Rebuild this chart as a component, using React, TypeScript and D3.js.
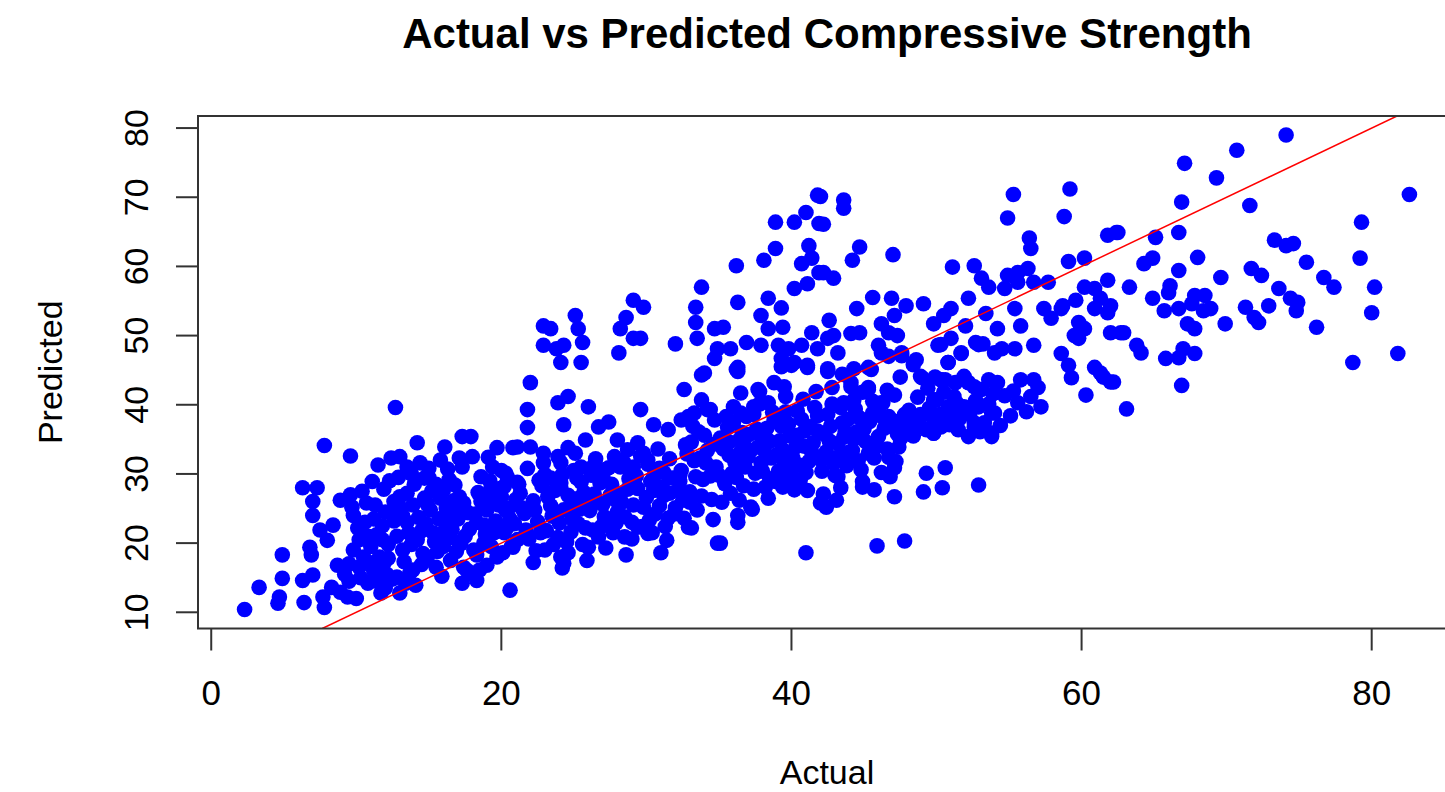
import React from 'react';
import * as d3 from 'd3';

const chartTitle = 'Actual vs Predicted Compressive Strength';
const xLabel = 'Actual';
const yLabel = 'Predicted';
const xTicks = [0, 20, 40, 60, 80];
const yTicks = [10, 20, 30, 40, 50, 60, 70, 80];

// [actual, predicted]
const lowLeft: [number, number][] = [
  [2.3,10.4],[3.3,13.6],[4.7,12.2],[4.6,11.3],[4.9,14.9],[4.9,18.3],[6.3,28],[6.3,14.6],[6.4,11.4],[6.8,19.4],
  [6.9,18.3],[7.0,15.4],[7.0,26],[7.0,24],[7.3,28],[7.5,21.9],[7.7,12.2],[7.8,10.7],[7.8,34.1],[8.0,20.4],
  [8.3,13.6],[8.4,22.6],[8.7,16.8],[8.9,12.9],[8.9,26.2],[9.4,12.2],[9.6,27],[9.6,32.6],[9.7,25.2],[9.8,24],
  [10,12],[9.8,19],[10.2,20.5],[10.5,18],[10.8,21],[11,19.5],[9.5,17],[9.2,15.5],[10.3,15],
];

const leftCluster: [number, number][] = [
  [11.5,31.3],[12.4,32.3],[13.0,32.5],[13.5,31],[12.7,39.6],[14.2,34.5],[14.4,31.6],[15,30.8],[15.8,32],[16.1,33.9],
  [9.5,14.5],[10.2,16.5],[10.8,14.2],[11.2,16],[11.6,18],[12.1,15.5],[11.8,20.5],[10.5,20.8],[11.4,14.5],[12.2,17.8],
  [12.5,14.8],[13,12.8],[13.7,15.7],[12.8,15.1],[13.9,16.1],
  [11.8,22.5],[12.4,24.5],[12.8,21],[13.2,19],[13.5,23],[13.9,25.5],[14.2,20.5],[14.6,18.5],[14.8,22.8],[15.1,24.8],
  [15.4,20.2],[15.8,26.5],[12.6,26],[13,26.7],[13.5,27.2],[14,28.5],[12.2,19.8],[13.6,21.5],[14.3,23.7],[15.2,27.5],[11.2,23.5],
  [15,29.5],[15.5,28.5],[16,27.6],[16.4,29.2],[16.2,25],[16.6,22],[15.7,23.5],[16.8,24.5],[16.5,20.8],[15.3,21.5],
  [17,23.5],[17.4,25.8],[17.8,22],[18.2,24.2],[18.6,26],[18.9,21.3],[17.5,21],[18.3,23],[19,24.8],[17.1,26.7],
  [19.4,27.5],[19.8,25.5],[20.2,28.2],[20.6,23.5],[21,26.3],[20.3,24.7],[19.6,23.2],[21.2,28.5],[19.2,29],
  [17.3,35.4],[17.9,35.4],[17.1,32.3],[18,32.5],[17.3,31],[19.7,33.8],[19.4,31],[20.8,33.8],[17.3,14.2],[18.3,14.6],
  [17.6,16.1],[18.5,16.1],[19,16.8],[20.6,13.2],[20.1,18.6],[20.8,19.4],[18.9,20.1],[16,19.5],[16.5,17.5],[15.5,16.5],[14.9,18],
  [10.6,23],[11.3,25.5],[11.9,27.8],[12.9,29.5],[13.8,30],[14.7,26.5],[10.9,17.2],[12,13.5],[14.1,13.9],[15.9,15.2],
  [16.9,18.8],[18.1,19],[19.5,21.5],[20,30.5],[16.3,30.7],[14.5,16.9],[13.3,17.3],[11.7,12.8],[10.4,27.5],[12.3,29],
  [10.1,22.2],[10.7,25.8],[11.4,21.2],[11.9,17.1],[12.6,23.2],[13.1,25],[13.4,14.2],[13.8,19.8],[14.5,21.8],[14.9,25.6],
  [15.6,18.8],[16.1,23.1],[16.7,26.1],[17.2,19.9],[17.7,24.4],[18.4,27.3],[18.8,22.6],[19.3,19.5],[19.9,27.9],[20.4,22.3],
  [21.4,25.1],[21.7,21.9],[11.1,28.9],[12,24.5],[14.7,29.4],[16.8,28.4],[18.6,29.6],[19.1,32.4],[15.9,21.4],[13.2,23.9],
];

const midBand: [number, number][] = [
  [20.2,21.5],[20.5,25],[20.9,22.8],[21.3,27.2],[21.6,24.3],[21.9,20.6],[22.2,26.1],[22.5,23.1],[22.8,28.3],[23.1,21.8],
  [23.4,25.4],[23.7,27.6],[24,22.9],[24.3,24.8],[24.6,26.9],[20.7,19.5],[21.8,30.8],[22.9,31.6],[23.6,19.8],[24.2,29.9],
  [21.1,20.5],[22.4,18.9],[23.9,20.8],[24.8,21.6],[20.3,30.1],
  [24.9,23.5],[25.2,26.4],[25.5,28.8],[25.8,22.2],[26.1,24.7],[26.4,27.1],[26.7,20.9],[27,25.6],[27.3,23.3],[27.6,28.5],
  [27.9,26.2],[25,30.5],[26.2,29.8],[27.4,30.9],[25.6,19.8],[26.9,22.4],[27.7,21.5],[28,24.5],[25.4,24.9],[26.6,26],
  [24.6,18.6],[25.9,17.5],[27.2,19.3],
  [28.2,27.2],[28.5,23.8],[28.8,29.3],[29.1,25.5],[29.4,27.9],[29.7,22.4],[30,26.6],[30.3,28.9],[30.6,24.2],[30.9,30.8],
  [31.2,26.9],[31.5,23.6],[31.8,29.4],[28.4,31.8],[29.6,32.6],[30.8,33.6],[31.6,32.2],[29,20.6],[30.4,21.5],[31.4,20.4],
  [32,25.1],[28.9,30.7],[30.1,31.4],[31.1,28.1],[32.2,27.6],
  [22,43.2],[21.8,39.3],[21.8,36.7],[23.9,40.3],[24.6,41.2],[26,39.7],[29.6,39.3],[24.3,37.1],[26.7,36.8],[27.4,37.5],
  [25.8,34.9],[30.5,37.1],[31.5,36.4],[32.4,37.8],[33.3,38.8],[34.2,39.3],[34.7,37.8],[28,34.9],[28.7,33.5],[29.4,34.5],
  [29.8,33],[21.1,33.9],[22,33.9],[22.9,33],[23.9,32.5],[24.6,33.8],[24.1,31.6],[25.5,31],[26.4,31.3],[27.1,30.6],
  [27.8,32.5],[28.2,31],[20.4,29.6],[21.1,28.8],[19.3,28.1],[19.1,26.2],[20,26.7],[22.6,29.1],[23.4,29.4],[24.1,28.7],
  [29.1,31],[30.1,32],[30.5,29.6],
  [29.4,22.3],[28.5,20.9],[30.1,21.4],[31,18.6],[28.6,18.3],[26,19.4],[24.1,18],[24.3,17.1],[22.2,17.2],[23,19],
  [19.7,18],[18.8,20],[18.3,18.3],[17.4,16.5],[17.9,15.7],[34.9,20],[32.9,22.3],[24.2,16.4],
  [22.3,24.8],[22.7,21.5],[23.2,26.7],[23.5,23.9],[24.1,27.9],[24.5,20.2],[24.8,25.3],[25.3,22.8],[25.7,27.3],[26,25.3],
  [26.3,21.9],[26.8,28.7],[27.1,23.8],[27.5,26.9],[27.9,22.9],[28.3,25.9],[28.7,27.8],[29,23],[29.3,29.7],[29.8,25.2],
  [30.2,23.3],[30.5,27.6],[30.9,25.4],[31.3,22.4],[31.6,27.2],[31.9,24.2],[32.3,29.8],[32.6,23.6],[33,25.9],[33.4,29.6],
  [33.8,26.8],[23,29.9],[25.2,29.4],[27,29.6],[29.2,28.4],[31.2,30.2],[26.5,32.2],[25.1,33],[33.7,32.3],[33.1,34.6],
];

const upperLeftGroups: [number, number][] = [
  [22.9,51.4],[23.4,51],[22.9,48.6],[23.8,48.1],[24.1,46.1],[25.1,52.9],[25.3,51],[25.6,49],[25.5,46.1],[24.3,48.6],
  [29.1,55.1],[29.8,54.1],[28.6,52.6],[28.2,51],[29.1,49.6],[29.6,49.6],[28.1,47.5],[32,48.8],
];

const centerBand: [number, number][] = [
  [32.4,30.5],[32.7,34.2],[33,27.4],[33.3,31.9],[33.6,36.1],[33.9,29.2],[34.2,33.4],[34.5,26.3],[34.8,31],[35.1,35.2],
  [35.4,28.6],[35.7,32.7],[36,37.4],[32.3,28.9],[33.5,24.8],[34.6,23.4],[35.2,25.9],[35.9,30.1],[32.8,32.9],[34,35.6],
  [35.5,38.3],[32.5,26.2],[33.2,36.9],[34.4,29.7],[35.8,27.2],
  [36.2,29.5],[36.5,33.2],[36.8,31],[37.1,35.7],[37.4,27.8],[37.7,33.9],[38,30.4],[38.3,36.6],[38.6,32.3],[38.9,28.9],
  [39.2,34.8],[39.5,31.5],[39.8,37.2],[36.4,26.2],[37.3,24.9],[38.4,26.5],[39.4,28.1],[36.9,38.3],[37.8,40.1],[38.7,38.9],
  [39.6,41.2],[36.6,36],[37.5,30.1],[38.1,33.5],[39,32.8],[39.9,35.5],[40,30.6],[37,32.4],[38.5,29.3],[39.3,36.9],
  [40.3,33.9],[40.6,29.1],[40.9,36.2],[41.2,31.8],[41.5,34.5],[41.8,38.4],[42.1,30.4],[42.4,33.2],[42.7,36.9],[43,29.8],
  [43.3,32.6],[43.6,35.3],[43.9,37.9],[40.4,39.1],[41.1,27.6],[42.2,27.1],[43.1,26.2],[40.8,40.8],[41.7,41.9],[42.8,40.1],
  [43.8,31.2],[41.3,36.8],[42.6,34.8],[40.5,31.3],[43.4,39.6],
  [44.2,33.4],[44.5,36.1],[44.8,30.6],[45.1,34.7],[45.4,37.6],[45.7,32.3],[46,35.4],[46.3,38.2],[46.6,33.6],[46.9,36.9],
  [47.2,31.8],[47.5,35.1],[47.8,38.6],[44.4,39.4],[45.6,40.5],[46.2,30.2],[47.4,33.9],[44.9,28.9],[46.8,29.6],[47.9,36.2],
  [36.3,24],[37.2,25.2],[40.2,27.7],[36.3,23],[35.1,20],[33.1,22.2],[41,18.6],[42,25.8],
  [34.1,31.6],[34.6,34.3],[35,29.8],[35.3,33.6],[35.6,36.7],[36.1,31.7],[36.4,34.9],[36.7,28.3],[37.2,33.4],[37.6,36.5],
  [37.9,31.6],[38.2,28.1],[38.5,34.7],[38.8,37.8],[39.1,30.4],[39.4,33.5],[39.7,29.2],[40.1,32.3],[40.4,35.6],[40.7,37.9],
  [41,30.2],[41.4,33.1],[41.6,39.6],[42,32.1],[42.3,35.7],[42.5,38.6],[42.9,31.5],[43.2,34.4],[43.5,37.4],[43.9,33.1],
  [44.3,35],[44.6,31.9],[45,36.5],[45.3,33],[45.6,38.8],[45.9,34],[46.4,36.6],[46.7,32.4],[47.1,37.6],[47.3,35.8],
  [38,35.2],[39.6,39],[40.9,34],[36.8,33.9],[35.7,34.6],[41.8,36.2],[43.7,36.1],[44.7,38.1],[37.4,38.6],[39,38],
];

const rightBand: [number, number][] = [
  [57.2,39.7],[56.5,41.2],[55.6,40.3],[56.7,43.6],[55.8,43.6],[53.8,35.9],[54,38.8],[53.3,37.4],[52.2,35.4],[52.6,37.4],
  [51.5,36.4],[51.7,39.3],[51,38.3],[50.3,36.8],[49.8,35.9],[50.8,39.7],[54.2,43.2],[53.1,42.2],[52.2,43.2],[51.3,43.2],
  [50.6,43.6],[49.9,44],[49,43.9],[50,40.7],[47.8,37],[48.4,35.5],[48.9,38.6],[49.3,36.4],[48.1,39.2],
  [48,38.8],[48.9,38.3],[49.8,37.8],[51,39.3],[51.9,39.7],[52.9,39.7],[53.8,38.8],[48.4,36.4],[49.8,35.9],[51.2,37.4],
  [52.6,36.8],[53.8,35.4],[47.6,35.4],[49.8,40.7],[51.2,41.2],[52.6,42.6],[53.6,43.6],[50.3,43.6],[51.9,44.1],
  [47.1,30.9],[49.3,30.1],[50.6,30.9],[49.1,27.4],[50.4,28],[52.9,28.4],[44.9,28.1],[45.7,27.7],[47.1,26.7],[43.4,28],
  [43.2,29.6],[42.4,25.2],[45.9,19.6],[47.8,20.3],[45.3,42.2],[44.1,43.2],[43.6,40.3],[46.2,40.3],
  [46.3,40.3],[45.7,38.8],[46.7,38.3],[44.3,40.7],[45.3,42.5],[44.1,42.6],
  [48.6,37.3],[49.5,39.5],[50.2,38.6],[50.9,37.1],[51.6,38],[52.3,38.8],[53,36.1],[53.6,40.1],[54.4,37],[55.1,38.4],
  [55.3,42],[54.7,41.3],[53.9,41.6],[52.7,40.6],[51.4,40.2],[50.5,41.8],[49.4,42.4],[48.7,41.1],[56.2,39],[57,42.5],
  [42.8,42.5],[43.5,44.4],[44.9,41.8],[46.6,42.1],[47.5,44],[47.1,41.4],
];

const upperMid: [number, number][] = [
  [33.8,44.3],[36.3,44.8],[32.6,42.2],[33.8,40.7],[34.4,39.3],[32.9,38.3],[36.5,41.7],[37.7,42.2],[38.8,43.2],[39.5,42.6],
  [36.5,38.8],[37.4,39.7],[38.4,40.3],[34,44.6],[36.2,45.1],[39.3,45.5],[41.1,45.4],[42.5,44.8],[45.5,45.1],[48.4,45.8],
  [48.9,44.1],[50.8,46.1],[50.3,43.6],[36,39.7],[37.8,41.9],
  [33.8,57],[33.4,54.1],[33.4,51.9],[33.5,49.6],[34.7,51],[35.3,51.2],[34.9,48.1],[34.7,46.7],[35.8,48.1],[36.2,60.1],
  [36.3,54.8],[36.9,49],[36.3,45.4],[37.9,52.9],[38.4,51],[39.3,54],[39.4,51.2],[38.4,55.4],[37.9,48.6],[39.1,48.6],
  [39.8,48.1],[38.1,60.9],[38.9,62.6],[38.9,66.4],[40.2,66.4],[41,67.8],[41.8,70.3],[41.9,66.2],[41.2,63],[41.4,61.2],
  [40.7,60.4],[41.9,59.1],[40.2,56.8],[41.1,57.5],[41.4,50.4],[40.7,48.6],[41.8,48.1],[40.2,46.1],[41.1,45.7],[39.3,46.7],[40,45.7],
  [42,70.1],[43.6,69.6],[43.6,68.4],[42.2,66.1],[42.2,59.1],[42.9,58.3],[44.7,62.8],[44.2,60.9],[47,61.7],[51.1,59.9],
  [52.6,60.1],[53.1,58.3],[53.6,57],[55.3,70.4],[54.9,67],[56.4,64.1],[56.5,62.6],[54.9,58.7],[55.6,59.1],[56.3,59.7],
  [54.7,56.8],[55.6,57.7],[56.7,57.7],[57.7,57.7],[59.2,71.2],[58.8,67.2],[59.1,60.7],[60.2,61.2],[61.8,64.5],[62.4,64.9],
  [60.2,57],[60.9,56.8],[61.8,58],[61.3,55.4],[62,54.3],[60.9,53.9],[61.8,53.3],[58.7,54.3],[59.6,55.1],[59.8,51.9],
  [60.2,51],[59.5,50],[62,50.4],[45.6,55.5],[46.9,55.4],[47.9,54.3],[49.1,54.6],[44.5,53.9],[44.1,50.3],[44.7,50.4],
  [46.2,51.7],[46.7,50.4],[47.3,50],[47.1,52.9],[46,48.6],[46.2,47.5],[47.6,47.1],[49.8,51.7],[50.5,52.9],[51,53.9],
  [50.1,48.6],[51,49.6],[50.8,46.1],[52.2,55.4],[52,51.4],[53.4,53.2],[53.2,48.8],[52.7,49],[51.7,47.4],[54.2,51],
  [55.4,53.9],[55.8,51.4],[55.4,48.1],[54.5,48.1],[56.7,48.6],[57.4,53.9],[57.9,52.5],[58.6,53.9],[58.6,47.4],[59.1,45.7],
  [59.8,49.6],[60.9,45.4],[61.3,44.6],[62.7,50.4],[44.3,45.2],[45.3,45.4],[48.6,46.5],[42.5,45.2],[42.5,49.6],[42.9,50],
  [43.2,47.5],[42.6,52.2],[46.7,47],[47.6,47.5],[50.3,48.7],[51.7,47.5],[52.9,48.7],[54,47.5],
];

const highRight: [number, number][] = [
  [74.1,79],[70.7,76.8],[67.1,74.9],[69.3,72.8],[66.9,69.3],[71.6,68.8],[82.6,70.4],[79.3,66.4],[62.5,64.9],[65.1,64.2],
  [66.7,64.9],[73.3,63.8],[74.1,63],[74.6,63.3],[79.2,61.2],[75.5,60.6],[64.3,60.4],[64.9,61.2],[66.7,59.4],[68,61.3],
  [69.6,58.4],[71.7,59.7],[72.4,58.7],[76.7,58.4],[77.4,57],[80.2,57],[80,53.3],[73.6,56.8],[74.4,55.4],[74.9,54.8],
  [74.8,53.6],[72.9,54.3],[71.3,54.1],[71.9,52.6],[72.2,51.9],[69.9,51.7],[76.2,51.2],[63.3,57],[64.9,55.4],[66.1,57.2],
  [66,56.2],[65.7,53.6],[66.7,53.9],[67.8,55.8],[68.5,55.8],[67.6,54.6],[68.4,53.6],[68.9,53.9],[67.3,51.7],[67.8,51],
  [62.9,50.4],[63.8,48.6],[64.1,47.5],[65.8,46.7],[66.7,46.8],[67.8,47.4],[67,48.1],[78.7,46.1],[81.8,47.4],[62.2,43.3],
  [66.9,42.8],[63.1,39.4],[60.3,41.4],[61.5,44],[62,43.3],[59.3,43.9],
];

const allPoints: [number, number][] = [
  ...lowLeft, ...leftCluster, ...midBand, ...upperLeftGroups, ...centerBand, ...rightBand, ...upperMid, ...highRight,
];

const FONT = "'Liberation Sans', Arial, Helvetica, sans-serif";

export default function App() {
  const W = 1445;
  const H = 792;
  const xs = allPoints.map((p) => p[0]);
  const ys = allPoints.map((p) => p[1]);
  const [xMin, xMax] = d3.extent(xs) as [number, number];
  const [yMin, yMax] = d3.extent(ys) as [number, number];
  const xPad = (xMax - xMin) * 0.04;
  const yPad = (yMax - yMin) * 0.04;
  const left = 198, right = 1456, top = 116, bottom = 628.5;
  const x = d3.scaleLinear().domain([xMin - xPad, xMax + xPad]).range([left, right]);
  const y = d3.scaleLinear().domain([yMin - yPad, yMax + yPad]).range([bottom, top]);

  const t0 = Math.max(x.domain()[0], y.domain()[0]);
  const t1 = Math.min(x.domain()[1], y.domain()[1]);
  const linePath = d3.line<number>().x((d) => x(d)).y((d) => y(d))([t0, t1]) || '';

  const midY = (top + bottom) / 2;
  const midX = (left + right) / 2;

  return (
    <svg width={W} height={H} style={{ position: 'absolute', left: 0, top: 0, background: '#fff' }}>
      <rect x={0} y={0} width={W} height={H} fill="#fff" />
      <defs>
        <clipPath id="plotClip">
          <rect x={left} y={top} width={right - left} height={bottom - top} />
        </clipPath>
      </defs>
      <text x={midX} y={48} textAnchor="middle" fontFamily={FONT} fontWeight="bold" fontSize={42} fill="#000">
        {chartTitle}
      </text>
      <g clipPath="url(#plotClip)">
        {allPoints.map((p, i) => (
          <circle key={i} cx={x(p[0])} cy={y(p[1])} r={7.8} fill="#0000ff" />
        ))}
        <path d={linePath} stroke="#ff0000" strokeWidth={1.5} fill="none" />
      </g>
      <rect x={left} y={top} width={right - left} height={bottom - top} fill="none" stroke="#333" strokeWidth={2} />
      {xTicks.map((t) => (
        <g key={'x' + t}>
          <line x1={x(t)} x2={x(t)} y1={bottom} y2={bottom + 22} stroke="#333" strokeWidth={2} />
          <text x={x(t)} y={705} textAnchor="middle" fontFamily={FONT} fontSize={35} fill="#000">{t}</text>
        </g>
      ))}
      {yTicks.map((t) => (
        <g key={'y' + t}>
          <line x1={left - 22} x2={left} y1={y(t)} y2={y(t)} stroke="#333" strokeWidth={2} />
          <text transform={`translate(148,${y(t)}) rotate(-90)`} textAnchor="middle" fontFamily={FONT} fontSize={34} fill="#000">{t}</text>
        </g>
      ))}
      <text x={midX} y={784} textAnchor="middle" fontFamily={FONT} fontSize={34} fill="#000">{xLabel}</text>
      <text transform={`translate(62,${midY}) rotate(-90)`} textAnchor="middle" fontFamily={FONT} fontSize={34} fill="#000">{yLabel}</text>
    </svg>
  );
}
